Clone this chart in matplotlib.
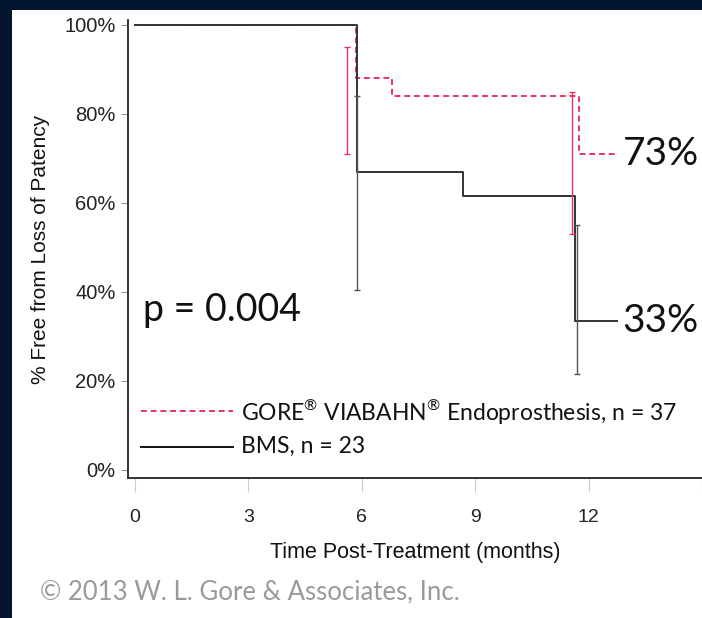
import matplotlib.pyplot as plt
import matplotlib.patches as mpatches

plt.rcParams["mathtext.fontset"] = "custom"
plt.rcParams["mathtext.rm"] = "Lato"

# Kaplan-Meier steps (months, % free from loss of patency)
gore_t = [0, 5.85, 6.8, 11.75, 12.75]
gore_s = [100, 88, 84, 71, 71]
bms_t = [0, 5.87, 8.67, 11.63, 12.75]
bms_s = [100, 67, 61.6, 33.5, 33.5]

# confidence interval bars: (month, low, high)
gore_ci_t = [5.6, 11.55]
gore_ci_lo = [71, 53]
gore_ci_hi = [95, 85]
bms_ci_t = [5.87, 11.68]
bms_ci_lo = [40.5, 21.5]
bms_ci_hi = [84, 55]

x_ticks = [0, 3, 6, 9, 12, 15]
x_labels = ["0", "3", "6", "9", "12", ""]
y_ticks = [0, 20, 40, 60, 80, 100]
y_labels = ["0%", "20%", "40%", "60%", "80%", "100%"]

RED = "#e8335f"
NAVY = "#04152f"
TXT = "Lato"

fig = plt.figure(figsize=(7.02, 6.18), dpi=100, facecolor=NAVY)
# white slide panel
fig.patches.append(mpatches.Rectangle((12 / 702, 0), 1, 1 - 10 / 618,
                                      transform=fig.transFigure,
                                      facecolor="white", edgecolor="none", zorder=-10))

ax = fig.add_axes([128 / 702, (618 - 478) / 618, (702 - 128) / 702, (478 - 20) / 618])
ax.set_facecolor("none")
ax.set_zorder(2)

ax.step(gore_t, gore_s, where="post", color=RED, linestyle=(0, (3, 2)), linewidth=1.4)
ax.step(bms_t, bms_s, where="post", color="#333333", linewidth=1.4)

ax.errorbar(gore_ci_t, [(a + b) / 2 for a, b in zip(gore_ci_lo, gore_ci_hi)],
            yerr=[[(b - a) / 2 for a, b in zip(gore_ci_lo, gore_ci_hi)]] * 2,
            fmt="none", ecolor=RED, elinewidth=1.0, capsize=2.5, capthick=1.0)
ax.errorbar(bms_ci_t, [(a + b) / 2 for a, b in zip(bms_ci_lo, bms_ci_hi)],
            yerr=[[(b - a) / 2 for a, b in zip(bms_ci_lo, bms_ci_hi)]] * 2,
            fmt="none", ecolor="#555555", elinewidth=1.0, capsize=2.5, capthick=1.0)

ax.set_xlim(-0.185, 15)
ax.set_ylim(-1.8, 101.1)
ax.set_xticks(x_ticks)
ax.set_xticklabels(x_labels, fontsize=14, family="Liberation Sans", color="#222222")
ax.set_yticks(y_ticks)
ax.set_yticklabels(y_labels, fontsize=14.5, family="Liberation Sans", color="#222222")
ax.tick_params(axis="y", length=5, color="#999999", pad=4)
ax.tick_params(axis="x", length=10, color="#cccccc", pad=12)

for s in ["top", "right"]:
    ax.spines[s].set_visible(False)
ax.spines["left"].set_color("#333333")
ax.spines["bottom"].set_color("#333333")
ax.spines["left"].set_linewidth(1.4)
ax.spines["bottom"].set_linewidth(1.4)

ax.set_xlabel("Time Post-Treatment (months)", fontsize=15.5, family="Liberation Sans",
              color="#111111", labelpad=12)
ax.set_ylabel("% Free from Loss of Patency", fontsize=15, family="Liberation Sans",
              color="#111111", labelpad=10)

ax.text(0.2, 36, "p = 0.004", fontsize=27, family=TXT, color="#111111", va="center")
ax.text(12.9, 71, "73%", fontsize=28, family=TXT, color="#111111", va="center")
ax.text(12.9, 33.5, "33%", fontsize=28, family=TXT, color="#111111", va="center")

# legend drawn by hand
ax.plot([0.15, 2.6], [13.2, 13.2], color=RED, linestyle=(0, (3, 2)), linewidth=1.4)
ax.plot([0.15, 2.6], [5.2, 5.2], color="#111111", linewidth=1.4)
ax.text(2.8, 13.2, r"GORE$^{\circledR}$ VIABAHN$^{\circledR}$ Endoprosthesis, n = 37",
        fontsize=16.5, family=TXT, color="#111111", va="center")
ax.text(2.8, 5.2, "BMS, n = 23", fontsize=16.5, family=TXT, color="#111111", va="center")

fig.text(40 / 702, 1 - 592 / 618, "\u00a9 2013 W. L. Gore & Associates, Inc.", fontsize=18.5,
         family=TXT, color="#9a9a9a", va="center")

fig.savefig("out.png", dpi=100, facecolor=NAVY)
